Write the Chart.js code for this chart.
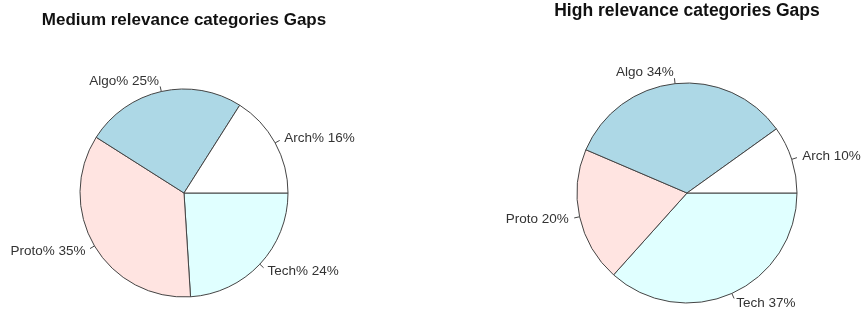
<!DOCTYPE html>
<html>
<head>
<meta charset="utf-8">
<script src="https://cdn.jsdelivr.net/npm/chart.js@4.4.1/dist/chart.umd.min.js"></script>
<style>
  body { margin: 0; background: #fff; }
  #wrap { position: relative; width: 863px; height: 315px; }
  .box { position: absolute; top: 0; }
</style>
</head>
<body>
<div id="wrap">
  <div class="box" style="left:0"><canvas id="medChart" width="430" height="315"></canvas></div>
  <div class="box" style="left:430px"><canvas id="highChart" width="433" height="315"></canvas></div>
</div>
<script>
// category order as drawn by R (counter-clockwise from 3 o'clock)
const categories = ["Arch", "Algo", "Proto", "Tech"];
const colors = ["#FFFFFF", "#ADD8E6", "#FFE4E1", "#E0FFFF"];

const medTitle = "Medium relevance categories Gaps";
const medLabels = ["Arch%", "Algo%", "Proto%", "Tech%"];
const medValues = [16, 25, 35, 24];

const highTitle = "High relevance categories Gaps";
const highLabels = ["Arch", "Algo", "Proto", "Tech"];
const highValues = [10, 34, 20, 37];

// R-style outside labels with little tick lines + title
const rLabels = {
  id: "rLabels",
  afterDraw(chart, args, opts) {
    const ctx = chart.ctx;
    const meta = chart.getDatasetMeta(0);
    const texts = chart.data.labels;
    ctx.save();
    ctx.font = "bold " + opts.titleSize + "px 'Liberation Sans', Arial, sans-serif";
    ctx.fillStyle = "#111";
    ctx.textAlign = "center";
    ctx.textBaseline = "middle";
    ctx.fillText(opts.title, opts.titleX, opts.titleY);

    ctx.font = "13.5px 'Liberation Sans', Arial, sans-serif";
    ctx.fillStyle = "#333";
    ctx.strokeStyle = "#444";
    ctx.lineWidth = 1;
    meta.data.forEach((arc, i) => {
      const p = arc.getProps(["x", "y", "startAngle", "endAngle", "outerRadius"], true);
      const mid = (p.startAngle + p.endAngle) / 2;
      const c = Math.cos(mid), s = Math.sin(mid);
      const r = p.outerRadius;
      ctx.beginPath();
      ctx.moveTo(p.x + c * r, p.y + s * r);
      ctx.lineTo(p.x + c * r * 1.05, p.y + s * r * 1.05);
      ctx.stroke();
      ctx.textAlign = c >= 0 ? "left" : "right";
      ctx.fillText(texts[i], p.x + c * r * 1.1, p.y + s * r * 1.1);
    });
    ctx.restore();
  }
};

function makePie(id, names, values, title, cx, cy, rad, w, h, titleY, titleSize) {
  // R draws counter-clockwise, Chart.js clockwise -> reverse the order
  const labels = names.map((n, i) => n + " " + values[i] + "%").reverse();
  const size = rad * 2 + 1;
  return new Chart(document.getElementById(id), {
    type: "pie",
    data: {
      labels: labels,
      datasets: [{
        data: values.slice().reverse(),
        backgroundColor: colors.slice().reverse(),
        borderColor: "#444",
        borderWidth: 1,
        borderAlign: "center"
      }]
    },
    options: {
      responsive: false,
      animation: false,
      rotation: 90,
      layout: {
        padding: {
          left: cx - size / 2,
          top: cy - size / 2,
          right: w - cx - size / 2,
          bottom: h - cy - size / 2
        }
      },
      plugins: {
        legend: { display: false },
        tooltip: { enabled: false },
        rLabels: { title: title, titleX: cx, titleY: titleY, titleSize: titleSize }
      }
    },
    plugins: [rLabels]
  });
}

makePie("medChart", medLabels, medValues, medTitle, 184, 193, 104, 430, 315, 20, 17);
makePie("highChart", highLabels, highValues, highTitle, 257, 193, 110, 433, 315, 11, 17.5);
</script>
</body>
</html>
